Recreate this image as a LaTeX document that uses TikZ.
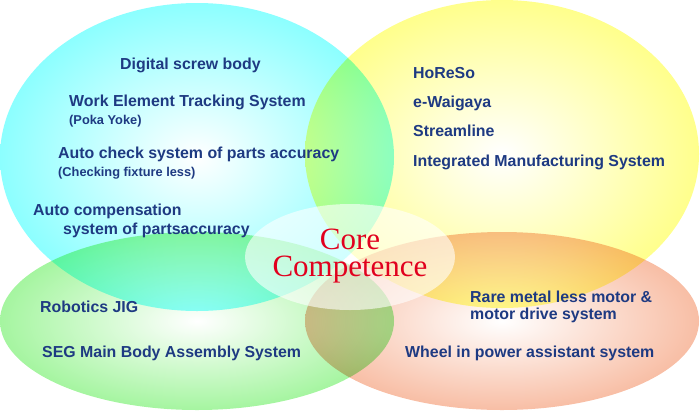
\documentclass[tikz,border=0pt]{standalone}
\usepackage{fontspec}
\setmainfont{Liberation Serif}
\setsansfont{Liberation Sans}
\definecolor{cyanC}{RGB}{140,255,255}
\definecolor{yellowC}{RGB}{255,255,140}
\definecolor{greenC}{RGB}{165,245,160}
\definecolor{orangeC}{RGB}{248,190,165}
\definecolor{itemblue}{RGB}{30,58,130}
\definecolor{corered}{RGB}{225,0,30}
\begin{document}
\begin{tikzpicture}[x=1pt, y=-1pt, line join=round,
	item/.style={anchor=base west, inner sep=0pt, text=itemblue, font=\sffamily\bfseries\fontsize{15.9}{17}\selectfont},
	note/.style={item, font=\sffamily\bfseries\fontsize{12.8}{15}\selectfont},
	core/.style={inner sep=0pt, align=center, text=corered, font=\fontsize{31}{27}\selectfont}]
	\useasboundingbox (0,0) rectangle (700,410);
	% four fields, multiplied where they overlap
	\foreach \cx/\cy/\ry/\col in {197/157/154/cyanC, 502/154/154/yellowC, 197/321/89/greenC, 502/321/89/orangeC}
	\shade[blend mode=multiply, inner color=white, outer color=\col] (\cx,\cy) ellipse (197 and \ry);
	\fill[white, opacity=0.6] (350,257) ellipse (105 and 53);
	% top left
	\node[item] (digital) at (120,69) {Digital screw body};
	\node[item] (wets) at (69,106) {Work Element Tracking System};
	\node[note] (poka) at (69,124) {(Poka Yoke)};
	\node[item] (autocheck) at (58,158) {Auto check system of parts accuracy};
	\node[note] (fixture) at (58,176) {(Checking fixture less)};
	\node[item] (autocomp) at (33,215) {Auto compensation};
	\node[item] (partsacc) at (63,234) {system of partsaccuracy};
	% top right
	\node[item] (horeso) at (413,78) {HoReSo};
	\node[item] (waigaya) at (413,107) {e-Waigaya};
	\node[item] (stream) at (413,136) {Streamline};
	\node[item] (ims) at (413,166) {Integrated Manufacturing System};
	% bottom left
	\node[item] (jig) at (40,312) {Robotics JIG};
	\node[item] (seg) at (42,357) {SEG Main Body Assembly System};
	% bottom right
	\node[item] (raremetal) at (470,302) {Rare metal less motor \&};
	\node[item] (drive) at (470,319) {motor drive system};
	\node[item] (wheel) at (405,357) {Wheel in power assistant system};
	% centre
	\node[core] (core) at (350,256.5) {Core\\Competence};
\end{tikzpicture}
\end{document}
